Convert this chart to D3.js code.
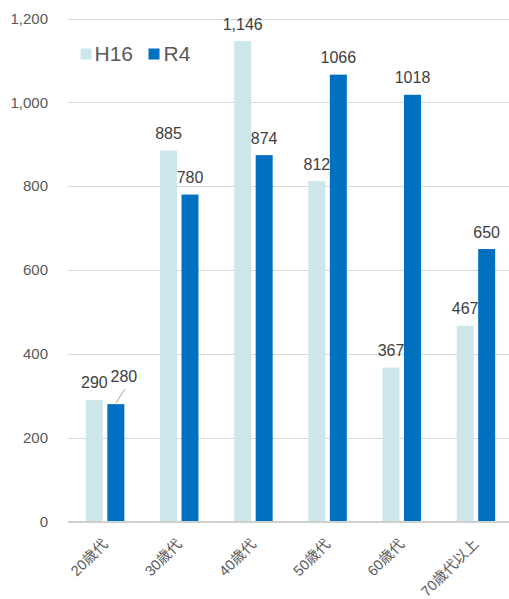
<!DOCTYPE html>
<html>
<head>
<meta charset="utf-8">
<script src="https://cdn.jsdelivr.net/npm/d3@7"></script>
<style>
html,body{margin:0;padding:0;background:#fff;}
svg{display:block;font-family:"Liberation Sans",Arial,sans-serif;}
</style>
</head>
<body>
<svg id="chart" width="509" height="599"></svg>
<script>
const categories = ["20歳代","30歳代","40歳代","50歳代","60歳代","70歳代以上"];
const seriesNames = ["H16","R4"];
const h16Values = [290, 885, 1146, 812, 367, 467];
const r4Values = [280, 780, 874, 1066, 1018, 650];
const yTicks = [0, 200, 400, 600, 800, 1000, 1200];
const colors = {H16: "#CDE6EA", R4: "#0070C0"};

(function(){
const svg = d3.select("#chart");
const pLeft = 68, pRight = 513, pTop = 18.5, pBottom = 521.5;

const x0 = d3.scaleBand().domain(categories).range([pLeft, pRight]).paddingInner(0.481).paddingOuter(0.2405);
const x1 = d3.scaleBand().domain(seriesNames).range([0, x0.bandwidth()]).paddingInner(0.21).paddingOuter(0);
const y = d3.scaleLinear().domain([0, 1200]).range([pBottom, pTop]);

svg.append("g").selectAll("line").data(yTicks.filter(t => t > 0)).join("line")
  .attr("x1", pLeft).attr("x2", pRight)
  .attr("y1", d => Math.round(y(d)) + 0.5).attr("y2", d => Math.round(y(d)) + 0.5)
  .attr("stroke", "#d9d9d9").attr("stroke-width", 1);

const yAxis = d3.axisLeft(y).tickValues(yTicks).tickFormat(d3.format(",")).tickSize(0).tickPadding(20);
const ga = svg.append("g").attr("transform", `translate(${pLeft},0)`).call(yAxis);
ga.select(".domain").remove();
ga.selectAll("text").attr("fill", "#595959").style("font-size", "15px")
  .style("font-family", '"Liberation Sans",Arial,sans-serif');

const data = categories.map((c, i) => ({cat: c, vals: [
  {s: "H16", v: h16Values[i], label: d3.format(",")(h16Values[i])},
  {s: "R4", v: r4Values[i], label: d3.format("d")(r4Values[i])}
]}));

const groups = svg.append("g").selectAll("g").data(data).join("g")
  .attr("transform", d => `translate(${x0(d.cat)},0)`);

groups.selectAll("rect").data(d => d.vals).join("rect")
  .attr("x", d => x1(d.s)).attr("width", x1.bandwidth())
  .attr("y", d => y(d.v)).attr("height", d => pBottom - y(d.v))
  .attr("fill", d => colors[d.s]);

svg.append("line").attr("x1", pLeft).attr("x2", pRight)
  .attr("y1", pBottom + 0.5).attr("y2", pBottom + 0.5)
  .attr("stroke", "#d0d0d0").attr("stroke-width", 2);

groups.each(function(d, gi) {
  const g = d3.select(this);
  d.vals.forEach(v => {
    let cx = x1(v.s) + x1.bandwidth() / 2;
    let ty = y(v.v) - 11.5;
    if (gi === 0 && v.s === "R4") {
      const lx = cx + 8, ly = y(v.v) - 22;
      g.append("line")
        .attr("x1", cx).attr("y1", y(v.v) - 1)
        .attr("x2", cx + 9).attr("y2", y(v.v) - 15)
        .attr("stroke", "#a6a6a6").attr("stroke-width", 1);
      cx = lx; ty = ly;
    }
    g.append("text").attr("x", cx).attr("y", ty)
      .attr("text-anchor", "middle").attr("fill", "#404040")
      .style("font-size", "16px").text(v.label);
  });
});

svg.append("g").selectAll("text").data(categories).join("text")
  .attr("transform", d => `translate(${x0(d) + x0.bandwidth() / 2},${pBottom + 20}) rotate(-45)`)
  .attr("text-anchor", "end").attr("dy", "0.35em")
  .attr("fill", "#595959").style("font-size", "14.5px")
  .style("font-family", '"Liberation Sans","Noto Sans CJK JP",sans-serif')
  .text(d => d);

const legend = svg.append("g");
const legendItems = [{s: "H16", x: 80.5, tx: 94.5}, {s: "R4", x: 148.5, tx: 163.5}];
legendItems.forEach(it => {
  legend.append("rect").attr("x", it.x).attr("y", 48.5).attr("width", 11).attr("height", 11).attr("fill", colors[it.s]);
  legend.append("text").attr("x", it.tx).attr("y", 61).attr("fill", "#595959")
    .style("font-size", "21px").text(it.s);
});
})();
</script>
</body>
</html>
